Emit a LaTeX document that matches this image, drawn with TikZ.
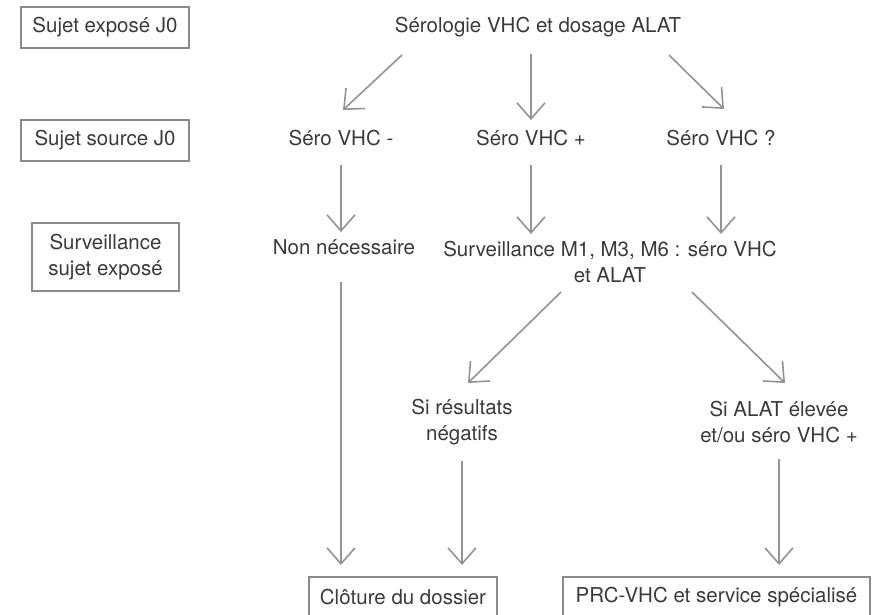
\documentclass[tikz,border=0pt]{standalone}
\usepackage{fontspec}
\setmainfont{TeX Gyre Heros}
\usetikzlibrary{arrows.meta}

\definecolor{texte}{HTML}{3A3A3A}
\definecolor{trait}{HTML}{939393}
\definecolor{cadre}{HTML}{8A8A8A}

\tikzset{
  lbl/.style={inner sep=0pt, text=texte, align=center, text height=15pt, text depth=4.5pt},
  lbl2/.style={inner sep=0pt, text=texte, align=center},
  boite/.style={draw=cadre, line width=2pt, inner sep=0pt, text=texte, align=center},
  fleche/.style={draw=trait, line width=1.6pt,
    -{Straight Barb[length=16pt,width=28pt,line width=1.6pt]}}
}

\begin{document}
\begin{tikzpicture}[x=1pt,y=-1pt, font=\fontsize{20.5}{26}\selectfont]
  \useasboundingbox (0,0) rectangle (876,614);

  % colonne de gauche
  \node[boite, minimum width=168pt, minimum height=41pt] (expose) at (105,27.5) {Sujet exposé J0};
  \node[boite, minimum width=168pt, minimum height=41pt] (source) at (105,140) {Sujet source J0};
  \node[boite, minimum width=147pt, minimum height=68pt] (suivi) at (105.5,257) {Surveillance\\sujet exposé};

  % arbre
  \node[lbl] (serologie) at (538,27) {Sérologie VHC et dosage ALAT};
  \node[lbl] (seroneg) at (341,140) {Séro VHC -};
  \node[lbl] (seropos) at (531,140) {Séro VHC +};
  \node[lbl] (seroind) at (721,140) {Séro VHC ?};
  \node[lbl] (nonnec) at (344,249) {Non nécessaire};
  \node[lbl2] (surv) at (610,262) {Surveillance M1, M3, M6 : séro VHC\\et ALAT};
  \node[lbl2] (negatif) at (462,422) {Si résultats\\négatifs};
  \node[lbl2] (eleve) at (779,422) {Si ALAT élevée\\et/ou séro VHC +};
  \node[boite, minimum width=188pt, minimum height=41pt] (cloture) at (403,597.5) {Clôture du dossier};
  \node[boite, minimum width=307pt, minimum height=41pt] (prc) at (716.5,597.5) {PRC-VHC et service spécialisé};

  % extremites des fleches obliques
  \coordinate (hautg) at (402,55);
  \coordinate (hautd) at (669,55);
  \coordinate (basg) at (343,110);
  \coordinate (basd) at (724,109);
  \coordinate (survg) at (561,292);
  \coordinate (survd) at (692,292);
  \coordinate (negn) at (468,383);
  \coordinate (elen) at (785,383);

  \draw[fleche] (hautg) -- (basg);
  \draw[fleche] (hautd) -- (basd);
  \draw[fleche, shorten <=17pt, shorten >=10pt] (serologie.south -| seropos) -- (seropos.north);

  \draw[fleche, shorten <=15pt, shorten >=7pt] (seroneg.south) -- (seroneg.south |- nonnec.north);
  \draw[fleche, shorten <=15pt, shorten >=7pt] (seropos.south) -- (seropos.south |- surv.north);
  \draw[fleche, shorten <=15pt, shorten >=7pt] (seroind.south) -- (seroind.south |- surv.north);

  \draw[fleche] (survg) -- (negn);
  \draw[fleche] (survd) -- (elen);

  \draw[fleche, shorten <=23pt, shorten >=11pt] (seroneg.south |- nonnec.south) -- (seroneg.south |- cloture.north);
  \draw[fleche, shorten <=16pt, shorten >=11pt] (negatif.south) -- (negatif.south |- cloture.north);
  \draw[fleche, shorten <=16pt, shorten >=11pt] (eleve.south) -- (eleve.south |- prc.north);
\end{tikzpicture}
\end{document}
